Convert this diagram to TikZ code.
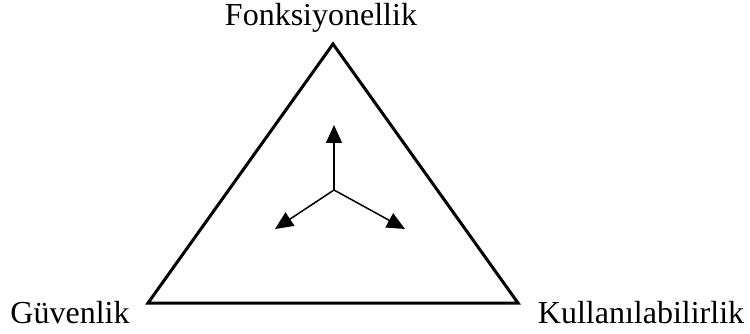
\documentclass[tikz,border=0pt]{standalone}
\usepackage{fontspec}
\setmainfont{Liberation Serif}
\usetikzlibrary{arrows.meta}
\begin{document}
\begin{tikzpicture}[x=1pt,y=-1pt,
  lbl/.style={font=\fontsize{32}{36}\selectfont, inner sep=0pt, anchor=base},
  vec/.style={line width=1.5pt, -{Triangle[length=18pt,width=16pt]}}]
\useasboundingbox (0,0) rectangle (750,334);
\coordinate (A) at (333,44);
\coordinate (B) at (148,303);
\coordinate (C) at (518,303);
\draw[line width=3pt, line join=miter] (A) -- (B) -- (C) -- cycle;
\coordinate (O) at (334,190);
\coordinate (U) at (334,125);
\coordinate (L) at (275,229);
\coordinate (R) at (405,229);
\draw[vec] (O) -- (U);
\draw[vec] (O) -- (L);
\draw[vec] (O) -- (R);
\node[lbl] (f) at (321,26) {Fonksiyonellik};
\node[lbl] (g) at (70,323) {Güvenlik};
\node[lbl] (k) at (641,323) {Kullanılabilirlik};
\end{tikzpicture}
\end{document}
